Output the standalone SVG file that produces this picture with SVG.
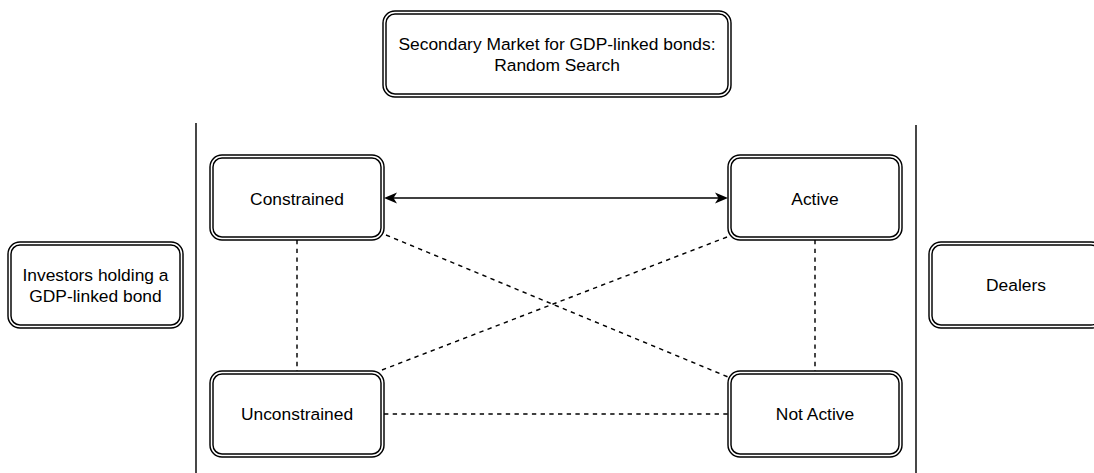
<svg xmlns="http://www.w3.org/2000/svg" width="1094" height="473" viewBox="0 0 1094 473">
<style>
.outer{fill:#ffffff;stroke:#000000;stroke-width:1.45}
.inner{fill:none;stroke:#000000;stroke-width:1.45}
.lbl{font-family:"Liberation Sans",Arial,Helvetica,sans-serif;font-size:17.4px;fill:#000000;text-anchor:middle}
.sep{stroke:#000000;stroke-width:1.45;fill:none}
.dash{stroke:#000000;stroke-width:1.45;fill:none;stroke-dasharray:4.35 4.35}
.solid{stroke:#000000;stroke-width:1.45;fill:none}
</style>
<defs>
<marker id="arr" markerUnits="userSpaceOnUse" markerWidth="14" markerHeight="12" viewBox="0 0 14 12" refX="10" refY="6" orient="auto-start-reverse">
<path d="M13,6 L0,0.5 L3.5,6 L0,11.5 Z" fill="#000000"/>
</marker>
</defs>
<rect width="1094" height="473" fill="#ffffff"/>
<g id="separators">
<line class="sep" x1="196" y1="123" x2="196" y2="473"/>
<line class="sep" x1="916" y1="125" x2="916" y2="473"/>
</g>
<g id="connectors">
<line class="solid" x1="387" y1="198" x2="725" y2="198" marker-start="url(#arr)" marker-end="url(#arr)"/>
<line class="dash" x1="386" y1="235" x2="728" y2="377"/>
<line class="dash" x1="727" y1="237" x2="382" y2="370"/>
<line class="dash" x1="297" y1="240" x2="297" y2="371"/>
<line class="dash" x1="815" y1="240" x2="815" y2="371"/>
<line class="dash" x1="384" y1="414" x2="728" y2="414"/>
</g>
<g id="title">
<rect class="outer" x="383" y="11" width="348" height="86" rx="12"/>
<rect class="inner" x="386" y="14" width="342" height="80" rx="9"/>
<text class="lbl" x="557" y="50">Secondary Market for GDP-linked bonds:</text>
<text class="lbl" x="557" y="71">Random Search</text>
</g>
<g id="investors">
<rect class="outer" x="8" y="242" width="175" height="86" rx="12"/>
<rect class="inner" x="11" y="245" width="169" height="80" rx="9"/>
<text class="lbl" x="95.5" y="281">Investors holding a</text>
<text class="lbl" x="95.5" y="302">GDP-linked bond</text>
</g>
<g id="dealers">
<rect class="outer" x="929" y="242" width="174" height="86" rx="12"/>
<rect class="inner" x="932" y="245" width="168" height="80" rx="9"/>
<text class="lbl" x="1016" y="291">Dealers</text>
</g>
<g id="constrained">
<rect class="outer" x="210" y="155" width="174" height="85" rx="12"/>
<rect class="inner" x="213" y="158" width="168" height="79" rx="9"/>
<text class="lbl" x="297" y="205">Constrained</text>
</g>
<g id="active">
<rect class="outer" x="728" y="155" width="174" height="85" rx="12"/>
<rect class="inner" x="731" y="158" width="168" height="79" rx="9"/>
<text class="lbl" x="815" y="205">Active</text>
</g>
<g id="unconstrained">
<rect class="outer" x="210" y="371" width="174" height="86" rx="12"/>
<rect class="inner" x="213" y="374" width="168" height="80" rx="9"/>
<text class="lbl" x="297" y="420">Unconstrained</text>
</g>
<g id="notactive">
<rect class="outer" x="728" y="371" width="174" height="86" rx="12"/>
<rect class="inner" x="731" y="374" width="168" height="80" rx="9"/>
<text class="lbl" x="815" y="420">Not Active</text>
</g>
</svg>
